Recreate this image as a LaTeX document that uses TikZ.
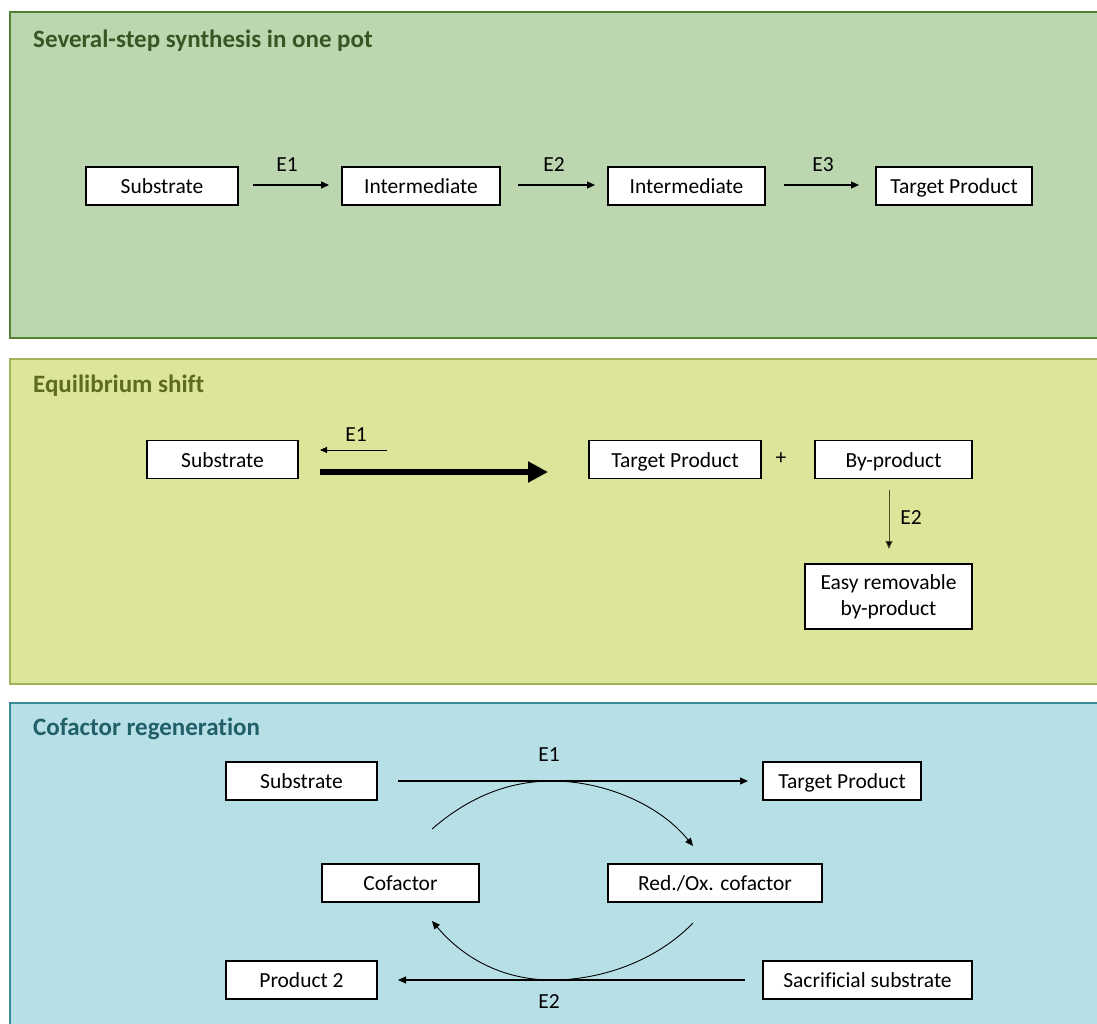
\documentclass[tikz,border=0pt]{standalone}
\usepackage{fontspec}
\setmainfont{Carlito}[Ligatures={NoCommon}]
\usetikzlibrary{arrows.meta}
\definecolor{gfill}{HTML}{BCD7B0}
\definecolor{gline}{HTML}{548235}
\definecolor{gtitle}{HTML}{375623}
\definecolor{yfill}{HTML}{DCE59A}
\definecolor{yline}{HTML}{A2B45A}
\definecolor{ytitle}{HTML}{5E6C1F}
\definecolor{bfill}{HTML}{B7E0E6}
\definecolor{bline}{HTML}{3A8A99}
\definecolor{btitle}{HTML}{215F69}
\begin{document}
\begin{tikzpicture}[x=1pt,y=-1pt,
  box/.style={draw=black,fill=white,line width=1.2pt,minimum height=38pt,inner sep=0pt,font=\fontsize{21.5}{25}\selectfont,align=center,text height=16.5pt,text depth=1pt},
  lbl/.style={font=\fontsize{21.5}{25}\selectfont,inner sep=0pt},
  ttl/.style={font=\bfseries\fontsize{25}{29}\selectfont,anchor=base west,inner sep=0pt},
  arr/.style={line width=1.1pt,-{Triangle[length=8pt,width=7pt]}},
  panel/.style={line width=1.4pt}]
\useasboundingbox (0,0) rectangle (1097,1023);
\begin{scope}
\clip (0,0) rectangle (1097,1023);
% panels
\draw[panel,draw=gline,fill=gfill] (10,12) rectangle (1110,338);
\draw[panel,draw=yline,fill=yfill] (10,359) rectangle (1110,684);
\draw[panel,draw=bline,fill=bfill] (10,703) rectangle (1110,1040);
\end{scope}
% titles
\node[ttl,text=gtitle] (t1) at (33,47) {Several-step synthesis in one pot};
\node[ttl,text=ytitle] (t2) at (33,392) {Equilibrium shift};
\node[ttl,text=btitle] (t3) at (33,735) {Cofactor regeneration};
% panel 1
\node[box,minimum width=152pt] (s1) at (162,186) {Substrate};
\node[box,minimum width=158pt] (i1) at (421,186) {Intermediate};
\node[box,minimum width=157pt] (i2) at (686.5,186) {Intermediate};
\node[box,minimum width=156pt] (p1) at (954,186) {Target Product};
\coordinate (a1s) at (253,185); \coordinate (a1e) at (329,185);
\coordinate (a2s) at (518,185); \coordinate (a2e) at (595,185);
\coordinate (a3s) at (784,185); \coordinate (a3e) at (859,185);
\draw[arr] (a1s) -- (a1e);
\draw[arr] (a2s) -- (a2e);
\draw[arr] (a3s) -- (a3e);
\node[lbl] (e11) at (287,165) {E1};
\node[lbl] (e12) at (554,165) {E2};
\node[lbl] (e13) at (823,165) {E3};
% panel 2
\node[box,minimum width=151pt] (s2) at (222.5,459.5) {Substrate};
\node[box,minimum width=172pt] (p2) at (675,459.5) {Target Product};
\node[lbl] (plus) at (781,459) {+};
\node[box,minimum width=157pt] (b2) at (893.5,459.5) {By-product};
\node[box,minimum width=167pt,minimum height=65pt,text height=,text depth=] (r2) at (888.5,596.5) {Easy removable\\[1pt]by-product};
\coordinate (e1s) at (387,450); \coordinate (e1e) at (320,450);
\draw[line width=0.9pt,-{Triangle[length=7pt,width=6pt]}] (e1s) -- (e1e);
\node[lbl] (e21) at (356,435) {E1};
\coordinate (ts) at (320,472); \coordinate (te) at (548,472);
\draw[line width=6pt,-{Triangle[length=20pt,width=20pt]}] (ts) -- (te);
\coordinate (ds) at (889,490); \coordinate (de) at (889,549);
\draw[draw=black!55!yline,line width=0.9pt,-{Triangle[length=8pt,width=7pt,fill=black]}] (ds) -- (de);
\node[lbl] (e22) at (911,518) {E2};
% panel 3
\node[box,minimum width=151pt] (s3) at (301.5,781) {Substrate};
\node[box,minimum width=158pt] (p3) at (842,781) {Target Product};
\node[box,minimum width=157pt] (c3) at (400.5,883) {Cofactor};
\node[box,minimum width=214pt] (r3) at (715,883) {Red./Ox. cofactor};
\node[box,minimum width=151pt] (q3) at (301.5,980) {Product 2};
\node[box,minimum width=209pt] (ss3) at (867.5,980) {Sacrificial substrate};
\coordinate (h1s) at (398,781); \coordinate (h1e) at (748,781);
\draw[arr] (h1s) -- (h1e);
\node[lbl] (e31) at (549,755) {E1};
\coordinate (h2s) at (745,980); \coordinate (h2e) at (398,980);
\draw[arr] (h2s) -- (h2e);
\node[lbl] (e32) at (549,1002) {E2};
\coordinate (u1) at (432,829); \coordinate (um) at (552,781); \coordinate (u2) at (693,846);
\draw[line width=0.9pt,-{Triangle[length=8pt,width=7pt]}] (u1) .. controls (470,796) and (510,781) .. (um) .. controls (605,781) and (660,805) .. (u2);
\coordinate (l1) at (693,923); \coordinate (lm) at (552,980); \coordinate (l2) at (432,921);
\draw[line width=0.9pt,-{Triangle[length=8pt,width=7pt]}] (l1) .. controls (655,962) and (600,980) .. (lm) .. controls (505,980) and (465,960) .. (l2);
\end{tikzpicture}
\end{document}
